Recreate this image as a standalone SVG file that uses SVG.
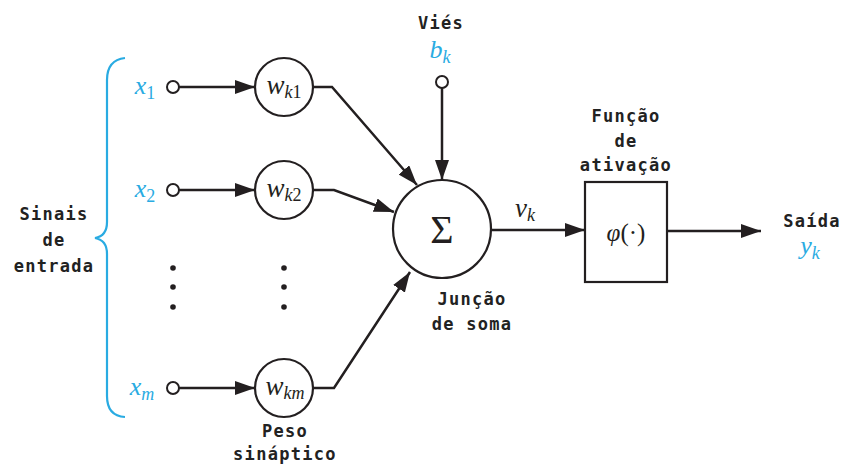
<svg xmlns="http://www.w3.org/2000/svg" width="841" height="464" viewBox="0 0 841 464">
<style>
.ln{stroke:#231f20;stroke-width:2.5;fill:none}
.ar{marker-end:url(#ah)}
.node{stroke:#231f20;stroke-width:2.2;fill:#fff}
.pin{stroke:#231f20;stroke-width:2;fill:#fff}
.lbl{font-family:"DejaVu Sans Mono","Liberation Mono",monospace;font-size:17px;font-weight:bold;letter-spacing:1.3px;fill:#222;text-anchor:middle}
.blue{font-family:"Liberation Serif","DejaVu Serif",serif;font-style:italic;font-size:26px;fill:#29abe2;text-anchor:middle}
.math{font-family:"Liberation Serif","DejaVu Serif",serif;font-style:italic;font-size:27px;fill:#231f20;text-anchor:middle}
.sub{font-size:18px}
.up{font-style:normal}
.dot{fill:#231f20}
</style>
<defs>
<marker id="ah" markerUnits="userSpaceOnUse" markerWidth="20" markerHeight="14" refX="20" refY="7" orient="auto">
<path d="M0,0 L20,7 L0,14 Z" fill="#231f20"/>
</marker>
</defs>
<g id="connectors">
<line class="ln ar" x1="179" y1="87" x2="255" y2="87"/>
<line class="ln ar" x1="179" y1="190" x2="255" y2="190"/>
<line class="ln ar" x1="179" y1="388" x2="255" y2="388"/>
<polyline class="ln ar" points="313,87 332,87 417,185"/>
<polyline class="ln ar" points="313,190 334,190 394,212"/>
<polyline class="ln ar" points="313,388 334,388 410,272"/>
<line class="ln ar" x1="442" y1="88" x2="442" y2="180"/>
<line class="ln ar" x1="492" y1="230" x2="585" y2="230"/>
<line class="ln ar" x1="667" y1="231" x2="761" y2="231"/>
</g>
<g id="brace">
<path d="M125,58 Q107,60 107,80 L107,222 Q107,236 95,238 Q107,240 107,254 L107,396 Q107,416 125,417" stroke="#29abe2" stroke-width="2.2" fill="none"/>
<text class="lbl" x="54" y="220">Sinais</text>
<text class="lbl" x="54" y="246">de</text>
<text class="lbl" x="54" y="272">entrada</text>
</g>
<g id="x1">
<circle class="pin" cx="173" cy="87" r="6"/>
<text class="blue" x="145" y="94">x<tspan class="sub up" dy="5">1</tspan></text>
</g>
<g id="x2">
<circle class="pin" cx="173" cy="190" r="6"/>
<text class="blue" x="145" y="197">x<tspan class="sub up" dy="5">2</tspan></text>
</g>
<g id="xm">
<circle class="pin" cx="173" cy="388" r="6"/>
<text class="blue" x="142" y="395">x<tspan class="sub" dy="5">m</tspan></text>
</g>
<g id="dots">
<circle class="dot" cx="173" cy="268" r="2.8"/>
<circle class="dot" cx="173" cy="287" r="2.8"/>
<circle class="dot" cx="173" cy="307" r="2.8"/>
<circle class="dot" cx="284" cy="268" r="2.8"/>
<circle class="dot" cx="284" cy="287" r="2.8"/>
<circle class="dot" cx="284" cy="307" r="2.8"/>
</g>
<g id="wk1">
<circle class="node" cx="284" cy="87" r="29"/>
<text class="math" x="284" y="94">w<tspan class="sub" dy="4">k</tspan><tspan class="sub up">1</tspan></text>
</g>
<g id="wk2">
<circle class="node" cx="284" cy="190" r="29"/>
<text class="math" x="284" y="197">w<tspan class="sub" dy="4">k</tspan><tspan class="sub up">2</tspan></text>
</g>
<g id="wkm">
<circle class="node" cx="284" cy="388" r="29"/>
<text class="math" x="285" y="395">w<tspan class="sub" dy="4">km</tspan></text>
<text class="lbl" x="285" y="437">Peso</text>
<text class="lbl" x="285" y="460">sináptico</text>
</g>
<g id="bias">
<text class="lbl" x="441" y="29">Viés</text>
<text class="blue" x="440" y="58">b<tspan class="sub" dy="5">k</tspan></text>
<circle class="pin" cx="442" cy="82" r="6"/>
</g>
<g id="sum">
<circle class="node" cx="442" cy="229" r="49"/>
<text x="442" y="243" font-family="Liberation Serif,DejaVu Serif,serif" font-size="40" fill="#231f20" text-anchor="middle">Σ</text>
<text class="lbl" x="472" y="305">Junção</text>
<text class="lbl" x="472" y="330">de soma</text>
</g>
<g id="vk">
<text class="math" x="525" y="217">v<tspan class="sub" dy="4">k</tspan></text>
</g>
<g id="activation">
<text class="lbl" x="626" y="122">Função</text>
<text class="lbl" x="626" y="147">de</text>
<text class="lbl" x="626" y="171">ativação</text>
<rect class="node" x="585" y="182" width="82" height="100"/>
<text x="626" y="241" font-family="Liberation Serif,DejaVu Serif,serif" font-size="25" fill="#231f20" text-anchor="middle"><tspan font-style="italic">φ</tspan>(·)</text>
</g>
<g id="output">
<text class="lbl" x="812" y="227">Saída</text>
<text class="blue" x="810" y="254">y<tspan class="sub" dy="5">k</tspan></text>
</g>
</svg>
